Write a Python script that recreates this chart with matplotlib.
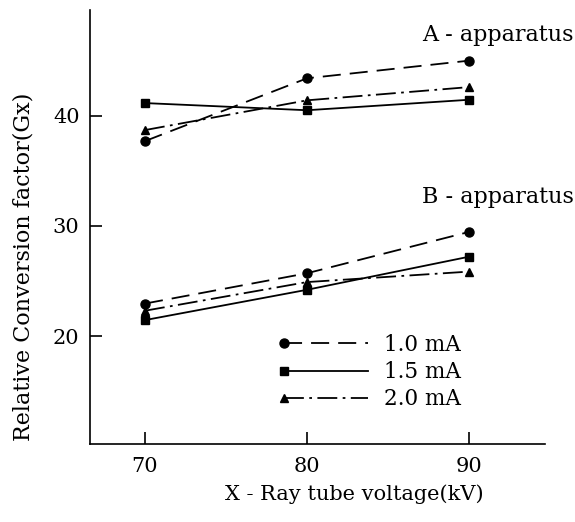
import matplotlib
matplotlib.use("Agg")
import matplotlib.pyplot as plt
import numpy as np
from matplotlib.legend_handler import HandlerLine2D

voltage = [70, 80, 90]
xticks = [70, 80, 90]
yticks = [20, 30, 40]

# A-apparatus
a_10 = [37.7, 43.4, 45.0]
a_15 = [41.15, 40.5, 41.45]
a_20 = [38.7, 41.4, 42.6]
# B-apparatus
b_10 = [22.95, 25.7, 29.45]
b_15 = [21.45, 24.2, 27.2]
b_20 = [22.3, 24.9, 25.85]

labels = ["1.0 mA", "1.5 mA", "2.0 mA"]

plt.rcParams['font.family'] = ['DejaVu Serif']
FS = 15

fig = plt.figure(figsize=(5.75, 5.22), dpi=100)
ax = fig.add_axes([90/575, 78/522, 455/575, 434/522])

styles = [
    dict(marker='o', ls=(0, (10, 5)), ms=6.5),
    dict(marker='s', ls='-', ms=6),
    dict(marker='^', ls=(0, (11, 3, 1.5, 3)), ms=6),
]

handles = []
for ys, st, lab in zip([a_10, a_15, a_20], styles, labels):
    h, = ax.plot(voltage, ys, color='black', lw=1.3, label=lab, **st)
    handles.append(h)
for ys, st in zip([b_10, b_15, b_20], styles):
    ax.plot(voltage, ys, color='black', lw=1.3, **st)


class LeftMarkerHandler(HandlerLine2D):
    def create_artists(self, *args, **kwargs):
        arts = super().create_artists(*args, **kwargs)
        for a in arts:
            a.set_markevery([0])
        return arts


ax.legend(handles=handles, loc='upper left',
          bbox_to_anchor=(284/575, 1 - 334/522), bbox_transform=fig.transFigure,
          frameon=False, handlelength=3.9, handletextpad=0.75,
          labelspacing=0.24, fontsize=15.5, numpoints=1,
          borderpad=0, borderaxespad=0,
          handler_map={h: LeftMarkerHandler() for h in handles})

fig.text(574/575, 1 - 35/522, "A - apparatus", fontsize=16, ha='right', va='center')
fig.text(574/575, 1 - 197/522, "B - apparatus", fontsize=16, ha='right', va='center')

ax.set_xlim(66.6, 94.7)
ax.set_ylim(10.2, 49.6)
ax.set_xticks(xticks)
ax.set_yticks(yticks)
ax.tick_params(direction='in', length=8.6, width=1.2, labelsize=FS)
ax.tick_params(axis='x', pad=9)
ax.tick_params(axis='y', pad=7.5)
for s in ['top', 'right']:
    ax.spines[s].set_visible(False)
for s in ['left', 'bottom']:
    ax.spines[s].set_linewidth(1.2)

ax.set_xlabel("X - Ray tube voltage(kV)", fontsize=FS)
ax.set_ylabel("Relative Conversion factor(Gx)", fontsize=16)
ax.xaxis.set_label_coords(0.58, -0.094)
ax.yaxis.set_label_coords(-0.121, 0.409)

fig.savefig("out.png", dpi=100)
